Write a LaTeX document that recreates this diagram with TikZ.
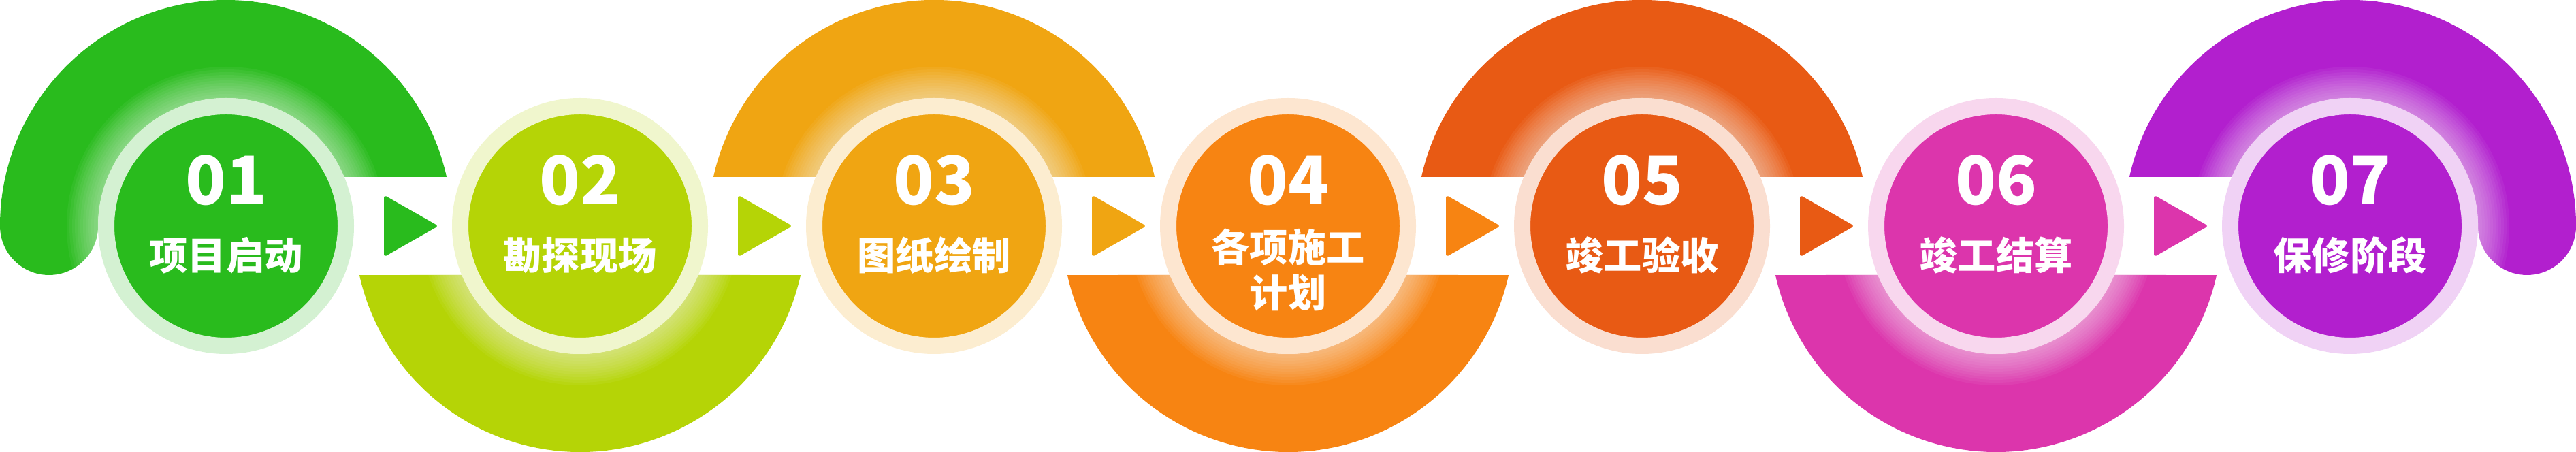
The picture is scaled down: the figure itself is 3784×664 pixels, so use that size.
\documentclass[tikz,border=0pt]{standalone}
\usepackage{fontspec}
\newfontfamily\cjk{Noto Sans CJK SC}
\usepackage{tikz}
\usetikzlibrary{positioning}
\usepackage{xcolor}
\definecolor{stepA}{HTML}{29BB1D}
\definecolor{stepB}{HTML}{B5D406}
\definecolor{stepC}{HTML}{F0A512}
\definecolor{stepD}{HTML}{F78412}
\definecolor{stepE}{HTML}{E85A14}
\definecolor{stepF}{HTML}{DC35AC}
\definecolor{stepG}{HTML}{B21FCE}

\begin{document}
\begin{tikzpicture}[x=0.1mm, y=0.1mm]
    \tikzset{Disc/.style={circle, draw=#1!20!white, fill=#1, line width=2.4mm, minimum size=35.2mm, inner sep=0pt}};
    \tikzset{Num/.style={text=white, inner sep=0pt, font=\cjk\bfseries\fontsize{28pt}{28pt}\selectfont}};
    \tikzset{Name/.style={text=white, inner sep=0pt, align=center, font=\cjk\bfseries\fontsize{16pt}{19pt}\selectfont}};
    \tikzset{Glow/.style={white, opacity=0.05}};
    \tikzset{Tip/.style={fill=#1, rounded corners=0.4mm}};

    \useasboundingbox (0,-332) rectangle (3784,332);

    % arc bands behind the discs
    \def\topband{(12.53:332) arc[start angle=12.53, end angle=167.47, radius=332] -- (157.48:188) arc[start angle=157.48, end angle=22.52, radius=188] -- cycle}
    \def\firstband{(180:332) arc[start angle=180, end angle=12.53, radius=332] -- (22.52:188) arc[start angle=22.52, end angle=180, radius=188] arc[start angle=0, end angle=-180, radius=72] -- cycle}
    \def\lastband{(167.47:332) arc[start angle=167.47, end angle=0, radius=332] arc[start angle=0, end angle=-180, radius=72] arc[start angle=0, end angle=157.48, radius=188] -- cycle}

    \begin{scope}[shift={(332,0)}]
      \fill[stepA] \firstband;
      \clip \firstband;
      \foreach \r in {234,230,...,188} \fill[Glow] (0,0) circle (\r);
    \end{scope}
    \foreach \k/\s/\col in {1/-1/stepB, 2/1/stepC, 3/-1/stepD, 4/1/stepE, 5/-1/stepF} {
      \begin{scope}[shift={(332+520*\k,0)}, yscale=\s]
        \fill[\col] \topband;
        \clip \topband;
        \foreach \r in {234,230,...,188} \fill[Glow] (0,0) circle (\r);
      \end{scope}
    }
    \begin{scope}[shift={(3452,0)}]
      \fill[stepG] \lastband;
      \clip \lastband;
      \foreach \r in {234,230,...,188} \fill[Glow] (0,0) circle (\r);
    \end{scope}

    % discs
    \node[Disc=stepA] (c1) at (332,0) {};
    \node[Disc=stepB] (c2) at (852,0) {};
    \node[Disc=stepC] (c3) at (1372,0) {};
    \node[Disc=stepD] (c4) at (1892,0) {};
    \node[Disc=stepE] (c5) at (2412,0) {};
    \node[Disc=stepF] (c6) at (2932,0) {};
    \node[Disc=stepG] (c7) at (3452,0) {};

    \node[Num] (n1) at ([yshift=6.7mm]c1.center) {01};
    \node[Num] (n2) at ([yshift=6.7mm]c2.center) {02};
    \node[Num] (n3) at ([yshift=6.7mm]c3.center) {03};
    \node[Num] (n4) at ([yshift=6.7mm]c4.center) {04};
    \node[Num] (n5) at ([yshift=6.7mm]c5.center) {05};
    \node[Num] (n6) at ([yshift=6.7mm]c6.center) {06};
    \node[Num] (n7) at ([yshift=6.7mm]c7.center) {07};

    \node[Name] (t1) at ([yshift=-4.3mm]c1.center) {项目启动};
    \node[Name] (t2) at ([yshift=-4.3mm]c2.center) {勘探现场};
    \node[Name] (t3) at ([yshift=-4.3mm]c3.center) {图纸绘制};
    \node[Name] (t4) at ([yshift=-6.45mm]c4.center) {各项施工\\计划};
    \node[Name] (t5) at ([yshift=-4.3mm]c5.center) {竣工验收};
    \node[Name] (t6) at ([yshift=-4.3mm]c6.center) {竣工结算};
    \node[Name] (t7) at ([yshift=-4.3mm]c7.center) {保修阶段};

    % arrow heads between the discs
    \foreach \x/\col in {332/stepA, 852/stepB, 1372/stepC, 1892/stepD, 2412/stepE, 2932/stepF}
      \path[Tip=\col] (\x+232,45.5) -- (\x+312,0) -- (\x+232,-45.5) -- cycle;
\end{tikzpicture}
\end{document}
